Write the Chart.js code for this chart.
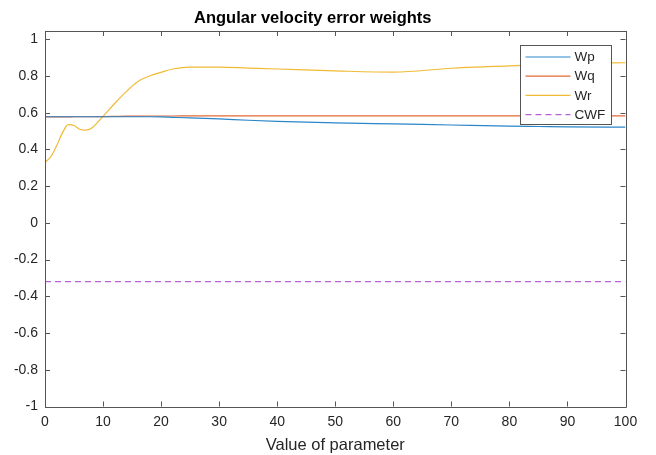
<!DOCTYPE html>
<html>
<head>
<meta charset="utf-8">
<script src="https://cdn.jsdelivr.net/npm/chart.js@4/dist/chart.umd.min.js"></script>
<style>
  html, body { margin: 0; padding: 0; background: #fff; }
  #wrap { width: 656px; height: 455px; }
</style>
</head>
<body>
<div id="wrap"><canvas id="c" width="656" height="455"></canvas></div>
<script>
// Parameter values at which the weights were sampled
const param = [0, 1, 2, 3, 4, 5, 6, 7, 8, 10, 12, 14, 16, 18, 20, 22, 25, 30, 35, 40, 50, 60, 70, 80, 85, 90, 100];

// Weight curves
const wp = [0.578, 0.578, 0.578, 0.578, 0.578, 0.578, 0.578, 0.578, 0.578, 0.578, 0.578, 0.578, 0.578, 0.578, 0.577, 0.575, 0.572, 0.566, 0.559, 0.553, 0.545, 0.539, 0.533, 0.527, 0.525, 0.523, 0.521];
const wq = [0.577, 0.577, 0.577, 0.577, 0.577, 0.578, 0.578, 0.578, 0.578, 0.579, 0.580, 0.581, 0.581, 0.582, 0.582, 0.582, 0.583, 0.583, 0.583, 0.583, 0.583, 0.583, 0.583, 0.583, 0.583, 0.583, 0.583];
const wr = [0.33, 0.36, 0.42, 0.49, 0.535, 0.53, 0.51, 0.505, 0.515, 0.58, 0.65, 0.715, 0.77, 0.80, 0.82, 0.838, 0.848, 0.848, 0.843, 0.838, 0.828, 0.821, 0.842, 0.855, 0.862, 0.870, 0.872];
const cwf = [-0.32, -0.32, -0.32, -0.32, -0.32, -0.32, -0.32, -0.32, -0.32, -0.32, -0.32, -0.32, -0.32, -0.32, -0.32, -0.32, -0.32, -0.32, -0.32, -0.32, -0.32, -0.32, -0.32, -0.32, -0.32, -0.32, -0.32];

// Axis ticks
const xTicks = [0, 10, 20, 30, 40, 50, 60, 70, 80, 90, 100];
const yTicks = [-1, -0.8, -0.6, -0.4, -0.2, 0, 0.2, 0.4, 0.6, 0.8, 1];

const FONT = "Arial, 'Liberation Sans', Helvetica, sans-serif";
const INK = '#262626';

const pts = ys => param.map((x, i) => ({ x: x, y: ys[i] }));

// Box around the axes with inward-pointing ticks on all four sides
const frameTicks = {
  id: 'frameTicks',
  afterDatasetsDraw(chart) {
    const { ctx, chartArea: a, scales } = chart;
    ctx.save();
    ctx.strokeStyle = '#555';
    ctx.lineWidth = 1;
    ctx.beginPath();
    ctx.rect(Math.round(a.left) + 0.5, Math.round(a.top) + 0.5,
             Math.round(a.right - a.left), Math.round(a.bottom - a.top));
    ctx.stroke();
    const len = 5;
    ctx.beginPath();
    scales.x.ticks.forEach(t => {
      const px = Math.round(scales.x.getPixelForValue(t.value)) + 0.5;
      ctx.moveTo(px, a.bottom); ctx.lineTo(px, a.bottom - len);
      ctx.moveTo(px, a.top); ctx.lineTo(px, a.top + len);
    });
    scales.y.ticks.forEach(t => {
      const py = Math.round(scales.y.getPixelForValue(t.value)) + 0.5;
      ctx.moveTo(a.left, py); ctx.lineTo(a.left + len, py);
      ctx.moveTo(a.right, py); ctx.lineTo(a.right - len, py);
    });
    ctx.stroke();
    ctx.restore();
  }
};

// Boxed legend in the upper right of the axes
const boxLegend = {
  id: 'boxLegend',
  afterDraw(chart) {
    const { ctx, chartArea: a } = chart;
    const w = 91, rowH = 19.2, h = 79;
    const x0 = Math.round(a.right - 15 - w) + 0.5;
    const y0 = Math.round(a.top + 14) + 0.5;
    ctx.save();
    ctx.fillStyle = '#fff';
    ctx.fillRect(x0, y0, w, h);
    ctx.strokeStyle = '#555';
    ctx.lineWidth = 1;
    ctx.strokeRect(x0, y0, w, h);
    ctx.font = '13.5px ' + FONT;
    ctx.textBaseline = 'middle';
    chart.data.datasets.forEach((ds, i) => {
      const y = y0 + 11.5 + i * rowH;
      ctx.strokeStyle = ds.borderColor;
      ctx.lineWidth = ds.borderWidth;
      ctx.setLineDash(ds.borderDash || []);
      ctx.beginPath();
      ctx.moveTo(x0 + 5, y);
      ctx.lineTo(x0 + 50, y);
      ctx.stroke();
      ctx.setLineDash([]);
      ctx.fillStyle = INK;
      ctx.fillText(ds.label, x0 + 54, y + 0.5);
    });
    ctx.restore();
  }
};

const common = { pointRadius: 0, borderWidth: 1.2, fill: false, cubicInterpolationMode: 'monotone' };

new Chart(document.getElementById('c'), {
  type: 'line',
  data: {
    datasets: [
      Object.assign({ label: 'Wp', data: pts(wp), borderColor: '#2a85c9' }, common),
      Object.assign({ label: 'Wq', data: pts(wq), borderColor: '#e26a36' }, common),
      Object.assign({ label: 'Wr', data: pts(wr), borderColor: '#f0ba35' }, common),
      Object.assign({ label: 'CWF', data: pts(cwf), borderColor: '#b861d6', borderDash: [6, 4] }, common)
    ]
  },
  options: {
    responsive: false,
    animation: false,
    devicePixelRatio: 1,
    layout: { padding: { left: 0, right: 30.5, top: 0, bottom: 0 } },
    plugins: {
      legend: { display: false },
      tooltip: { enabled: false },
      title: {
        display: true,
        text: 'Angular velocity error weights',
        color: '#000',
        font: { family: FONT, size: 16.5, weight: 'bold', lineHeight: 1.2 },
        padding: { top: 8.5, bottom: 2.7 }
      }
    },
    scales: {
      x: {
        type: 'linear', min: 0, max: 100,
        afterBuildTicks: s => { s.ticks = xTicks.map(v => ({ value: v })); },
        afterFit: s => { s.height = 48.5; },
        grid: { display: false, drawTicks: false },
        border: { display: false },
        ticks: { color: INK, padding: 7, font: { family: FONT, size: 14 }, maxRotation: 0, autoSkip: false },
        title: { display: true, text: 'Value of parameter', color: INK, padding: { top: 0, bottom: 0 }, font: { family: FONT, size: 16.5 } }
      },
      y: {
        type: 'linear', min: -1, max: 1.045,
        afterBuildTicks: s => { s.ticks = yTicks.map(v => ({ value: v })); },
        afterFit: s => { s.width = 45; },
        grid: { display: false, drawTicks: false },
        border: { display: false },
        ticks: { color: INK, padding: 7, font: { family: FONT, size: 14 }, autoSkip: false,
                 callback: v => String(Math.round(v * 10) / 10) }
      }
    }
  },
  plugins: [frameTicks, boxLegend]
});
</script>
</body>
</html>
